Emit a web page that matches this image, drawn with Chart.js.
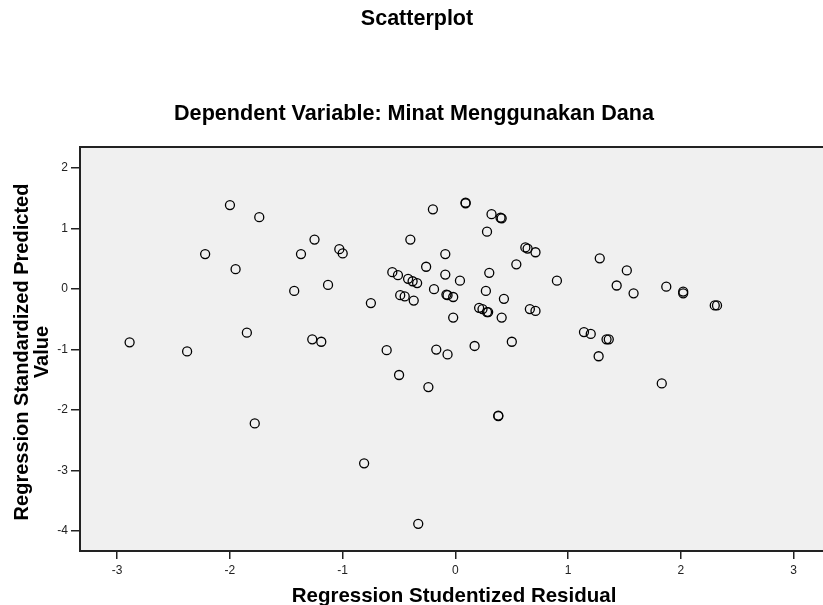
<!DOCTYPE html>
<html>
<head>
<meta charset="utf-8">
<script src="https://cdn.jsdelivr.net/npm/chart.js@4.4.1/dist/chart.umd.min.js"></script>
<style>
  html, body { margin: 0; padding: 0; background: #fff; overflow: hidden; }
  canvas { display: block; }
</style>
</head>
<body>
<canvas id="chart1" width="823" height="605"></canvas>
<script>
// Regression Studentized Residual (x) vs Regression Standardized Predicted Value (y)
const residual = [
  -2.00, -1.74, -2.22, -1.95, -1.85, -2.89, -2.38, -1.78,
  -0.20, 0.09, 0.09, 0.32, 0.40, 0.41, 0.28, -1.25, -0.40, -1.37, -1.03, -1.00,
  -0.09, 0.62, 0.64, 0.71, 0.54, -0.26, -0.56, -0.51, -0.09, 0.30, 0.04,
  -0.42, -0.38, -0.34, -1.43, -1.13, -0.19, 0.27, 0.43, -0.08, -0.07, -0.02,
  -0.49, -0.45, -0.37, -0.75, 0.21, 0.24, 0.28, 0.29, 0.66, 0.71, -0.02, 0.41,
  -1.27, -1.19, -0.61, -0.17, -0.07, 0.17, 0.50,
  -0.50, -0.24, 0.38, 0.38, -0.81, -0.33,
  1.28, 1.52, 0.90, 1.43, 1.58, 1.87, 2.02, 2.02, 2.30, 2.32,
  1.14, 1.20, 1.34, 1.36, 1.27, 1.83
];
const predicted = [
  1.39, 1.19, 0.58, 0.33, -0.72, -0.88, -1.03, -2.22,
  1.32, 1.43, 1.42, 1.24, 1.18, 1.17, 0.95, 0.82, 0.82, 0.58, 0.66, 0.59,
  0.58, 0.69, 0.67, 0.61, 0.41, 0.37, 0.28, 0.23, 0.24, 0.27, 0.14,
  0.17, 0.13, 0.10, -0.03, 0.07, 0.00, -0.03, -0.16, -0.09, -0.10, -0.13,
  -0.10, -0.12, -0.19, -0.23, -0.31, -0.33, -0.38, -0.38, -0.33, -0.36, -0.47, -0.47,
  -0.83, -0.87, -1.01, -1.00, -1.08, -0.94, -0.87,
  -1.42, -1.62, -2.09, -2.10, -2.88, -3.88,
  0.51, 0.31, 0.14, 0.06, -0.07, 0.04, -0.04, -0.07, -0.27, -0.27,
  -0.71, -0.74, -0.83, -0.83, -1.11, -1.56
];
const xTicks = [-3, -2, -1, 0, 1, 2, 3];
const yTicks = [2, 1, 0, -1, -2, -3, -4];

const mainTitle = "Scatterplot";
const subTitle = "Dependent Variable: Minat Menggunakan Dana";
const xTitle = "Regression Studentized Residual";
const yTitle = ["Regression Standardized Predicted", "Value"];

const points = residual.map((x, i) => ({ x: x, y: predicted[i] }));
const FONT = "'Liberation Sans', Arial, sans-serif";

// plot background, top border and all titles
const decor = {
  id: "decor",
  beforeDraw(chart) {
    const { ctx, chartArea: a } = chart;
    ctx.save();
    ctx.fillStyle = "#f0f0f0";
    ctx.fillRect(a.left, a.top, a.right - a.left, a.bottom - a.top);
    ctx.restore();
  },
  afterDraw(chart) {
    const { ctx, chartArea: a } = chart;
    ctx.save();
    ctx.strokeStyle = "#222";
    ctx.lineWidth = 2;
    ctx.beginPath();
    ctx.moveTo(a.left - 1, a.top);
    ctx.lineTo(a.right, a.top);
    ctx.stroke();

    ctx.fillStyle = "#000";
    ctx.textAlign = "center";
    ctx.textBaseline = "alphabetic";
    ctx.font = "bold 21.5px " + FONT;
    ctx.fillText(mainTitle, 417, 25);
    ctx.font = "bold 21.6px " + FONT;
    ctx.fillText(subTitle, 414, 120);
    ctx.font = "bold 20.5px " + FONT;
    ctx.fillText(xTitle, 454, 602);

    ctx.font = "bold 20px " + FONT;
    ctx.translate(0, 352);
    ctx.rotate(-Math.PI / 2);
    ctx.fillText(yTitle[0], 0, 28);
    ctx.fillText(yTitle[1], 0, 48);
    ctx.restore();
  }
};

new Chart(document.getElementById("chart1"), {
  type: "scatter",
  data: {
    datasets: [{
      data: points,
      pointStyle: "circle",
      pointRadius: 4.5,
      pointHoverRadius: 4.5,
      pointBorderWidth: 1.3,
      pointBorderColor: "#000",
      pointBackgroundColor: "rgba(0,0,0,0)"
    }]
  },
  options: {
    responsive: false,
    animation: false,
    layout: { autoPadding: false, padding: { top: 147, right: 0, left: 0, bottom: 0 } },
    plugins: { legend: { display: false }, tooltip: { enabled: false } },
    scales: {
      x: {
        type: "linear",
        min: -3.33,
        max: 3.26,
        afterBuildTicks: (s) => { s.ticks = xTicks.map(v => ({ value: v })); },
        afterFit: (s) => { s.height = 54; s.paddingLeft = 0; s.paddingRight = 0; },
        grid: { drawOnChartArea: false, drawTicks: true, tickLength: 8, color: "#222", lineWidth: 1.5 },
        border: { display: true, color: "#222", width: 2 },
        ticks: { color: "#222", font: { family: FONT, size: 12 }, padding: 4, maxRotation: 0 }
      },
      y: {
        type: "linear",
        min: -4.33,
        max: 2.35,
        afterBuildTicks: (s) => { s.ticks = yTicks.map(v => ({ value: v })); },
        afterFit: (s) => { s.width = 80; s.paddingTop = 0; s.paddingBottom = 0; },
        grid: { drawOnChartArea: false, drawTicks: true, tickLength: 9, color: "#222", lineWidth: 1.5 },
        border: { display: true, color: "#222", width: 2 },
        ticks: { color: "#222", font: { family: FONT, size: 12 }, padding: 3 }
      }
    }
  },
  plugins: [decor]
});
</script>
</body>
</html>
